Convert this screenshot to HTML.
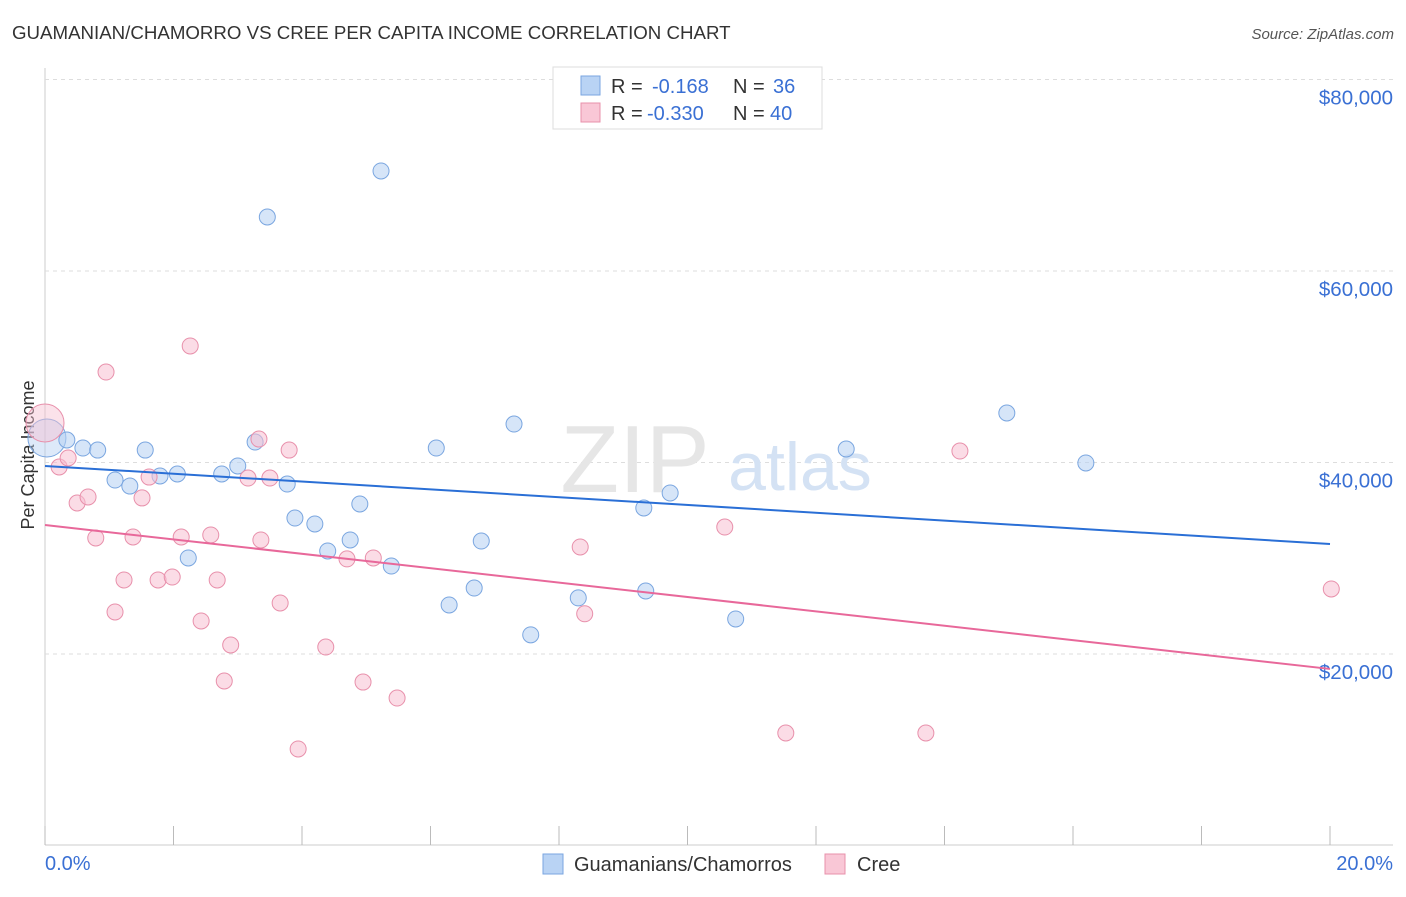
<!DOCTYPE html>
<html><head><meta charset="utf-8"><style>
body{margin:0;background:#fff;font-family:"Liberation Sans",sans-serif}
svg text{font-family:"Liberation Sans",sans-serif}
</style></head><body>
<svg width="1406" height="892" xmlns="http://www.w3.org/2000/svg">
<text x="12" y="39" font-size="18.7" fill="#333">GUAMANIAN/CHAMORRO VS CREE PER CAPITA INCOME CORRELATION CHART</text>
<text x="1394" y="39" font-size="15" fill="#555" text-anchor="end" font-style="italic">Source: ZipAtlas.com</text>
<g id="grid"></g>
<text x="635" y="492" font-size="96" fill="#e6e6e6" font-family="Liberation Serif" text-anchor="middle">ZIP</text>
<text x="800" y="490" font-size="68" fill="#d4e2f4" text-anchor="middle">atlas</text>
<text x="34" y="455" font-size="18" fill="#333" transform="rotate(-90 34 455)" text-anchor="middle">Per Capita Income</text>
<text x="45" y="870" font-size="20" fill="#3a70d4">0.0%</text>
<text x="1393" y="870" font-size="20" fill="#3a70d4" text-anchor="end">20.0%</text>
<g id="marks"></g>
<g>
<rect x="553" y="67" width="269" height="62" fill="#fff" stroke="#ddd"/>
<rect x="581" y="76" width="19" height="19" fill="#b9d3f4" stroke="#7aa6e0"/>
<rect x="581" y="103" width="19" height="19" fill="#f9c7d6" stroke="#e890ab"/>
<text x="611" y="93" font-size="20" fill="#333">R =</text>
<text x="652" y="93" font-size="20" fill="#3a70d4">-0.168</text>
<text x="733" y="93" font-size="20" fill="#333">N =</text>
<text x="773" y="93" font-size="20" fill="#3a70d4">36</text>
<text x="611" y="120" font-size="20" fill="#333">R =</text>
<text x="647" y="120" font-size="20" fill="#3a70d4">-0.330</text>
<text x="733" y="120" font-size="20" fill="#333">N =</text>
<text x="770" y="120" font-size="20" fill="#3a70d4">40</text>
</g>
<g>
<rect x="543" y="854" width="20" height="20" fill="#b9d3f4" stroke="#7aa6e0"/>
<text x="574" y="871" font-size="20" fill="#333">Guamanians/Chamorros</text>
<rect x="825" y="854" width="20" height="20" fill="#f9c7d6" stroke="#e890ab"/>
<text x="857" y="871" font-size="20" fill="#333">Cree</text>
</g>
</svg>
<script>
const yTicks=[20000,40000,60000,80000];
const yTickLabels=["$20,000","$40,000","$60,000","$80,000"];
const blueX=[0.03,0.34,0.59,0.82,1.09,1.32,1.56,1.79,2.06,2.23,2.75,3.00,3.27,3.46,3.77,3.89,4.20,4.40,4.75,4.90,5.23,5.39,6.09,6.29,6.68,6.79,7.30,7.56,8.30,9.32,9.35,9.73,10.75,12.47,14.97,16.20];
const blueY=[42560,42350,41510,41300,38170,37540,41300,38590,38800,30030,38800,39640,42140,65640,37750,34200,33580,30760,31910,35670,70450,29190,41510,25120,26890,31800,44020,22000,25860,35250,26580,36820,23660,41410,45170,39950];
const pinkX=[0.0,0.22,0.36,0.50,0.67,0.79,0.95,1.09,1.23,1.37,1.51,1.62,1.76,1.98,2.12,2.26,2.43,2.58,2.68,2.79,2.89,3.16,3.33,3.36,3.50,3.66,3.80,3.94,4.37,4.70,4.95,5.11,5.48,8.33,8.40,10.58,11.53,13.71,14.24,20.02];
const pinkY=[44130,39530,40470,35770,36400,32120,49450,24390,27730,32220,36300,38480,27730,28040,32220,52170,23450,32430,27730,17180,20940,38380,42450,31910,38380,25330,41300,10080,20730,29930,17070,30030,15400,31180,24200,33260,11750,11750,41200,26790];
const blueTrend=[39640,31490];
const pinkTrend=[33470,18440];
const NS="http://www.w3.org/2000/svg";
const X=v=>45+v*64.25, Y=v=>845.5-v/104.44;
function mk(t,a,p){const e=document.createElementNS(NS,t);for(const k in a)e.setAttribute(k,a[k]);p.appendChild(e);return e;}
const g=document.getElementById('grid'), m=document.getElementById('marks');
let ax=mk('line',{x1:45,y1:68,x2:45,y2:845,stroke:'#ccc'},g);


let bx=mk('line',{x1:45,y1:845,x2:1393,y2:845,stroke:'#ccc'},g);


for(let i=0;i<=10;i++){const t=mk('line',{x1:X(i*2),y1:826,x2:X(i*2),y2:845,stroke:'#bbb'},g);

}
yTicks.forEach((v,i)=>{const l=mk('line',{x1:45,y1:Y(v),x2:1393,y2:Y(v),stroke:'#ddd','stroke-dasharray':'4,4'},g);


const t=mk('text',{x:1393,y:Y(v)+25,'font-size':20.5,fill:'#3a70d4','text-anchor':'end'},g);t.textContent=yTickLabels[i];

});
function pts(xs,ys,fill,stroke,name){xs.forEach((x,i)=>{const big=(i==0);const c=mk('circle',{cx:X(x),cy:Y(ys[i]),r:big?19:8,fill:fill,'fill-opacity':big?0.45:0.55,stroke:stroke,'stroke-width':1},m);

});}
pts(blueX,blueY,'#b4cff2','#7aa6e0','guamanian-point');
pts(pinkX,pinkY,'#f7bfd1','#e890ab','cree-point');
let l1=mk('line',{x1:X(0),y1:Y(blueTrend[0]),x2:X(20),y2:Y(blueTrend[1]),stroke:'#2a6fd6','stroke-width':2},m);


let l2=mk('line',{x1:X(0),y1:Y(pinkTrend[0]),x2:X(20),y2:Y(pinkTrend[1]),stroke:'#e8689a','stroke-width':2},m);


</script>
</body></html>
